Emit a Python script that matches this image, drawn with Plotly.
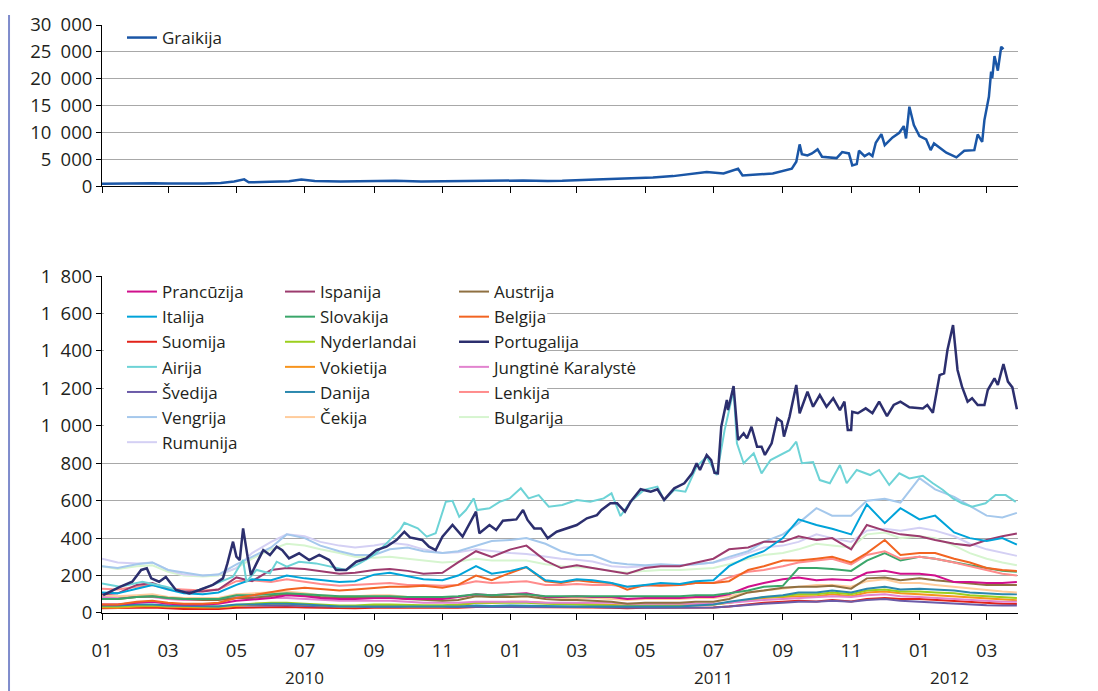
import plotly.graph_objects as go

# ---- data (bp) ----
dates_semi = ["2010-01-01", "2010-01-15", "2010-02-01", "2010-02-15", "2010-03-01", "2010-03-15",
              "2010-04-01", "2010-04-15", "2010-05-01", "2010-05-15", "2010-06-01", "2010-06-15",
              "2010-07-01", "2010-07-15", "2010-08-01", "2010-08-15", "2010-09-01", "2010-09-15",
              "2010-10-01", "2010-10-15", "2010-11-01", "2010-11-15", "2010-12-01", "2010-12-15",
              "2011-01-01", "2011-01-15", "2011-02-01", "2011-02-15", "2011-03-01", "2011-03-15",
              "2011-04-01", "2011-04-15", "2011-05-01", "2011-05-15", "2011-06-01", "2011-06-15",
              "2011-07-01", "2011-07-15", "2011-08-01", "2011-08-15", "2011-09-01", "2011-09-15",
              "2011-10-01", "2011-10-15", "2011-11-01", "2011-11-15", "2011-12-01", "2011-12-15",
              "2012-01-01", "2012-01-15", "2012-02-01", "2012-02-15", "2012-03-01", "2012-03-15",
              "2012-03-28"]

prancuzija = [45, 45, 55, 60, 50, 45, 45, 50, 65, 70, 80, 95, 90, 80, 75, 75, 80, 80, 75, 75, 75, 85, 100, 95,
              100, 105, 85, 85, 90, 85, 85, 75, 80, 80, 80, 85, 85, 100, 140, 160, 180, 190, 175, 180, 175, 215, 225, 210,
              210, 200, 165, 165, 160, 160, 165]
italija = [110, 105, 130, 150, 125, 105, 100, 110, 150, 180, 175, 200, 185, 175, 165, 170, 205, 215, 195, 180, 175, 200, 250, 210,
           225, 245, 175, 165, 180, 175, 160, 140, 150, 160, 155, 170, 175, 250, 300, 330, 400, 500, 470, 450, 420, 580, 480, 560,
           500, 520, 430, 400, 385, 400, 365]
suomija = [25, 25, 28, 30, 25, 22, 22, 22, 28, 30, 32, 32, 30, 28, 25, 25, 28, 28, 26, 26, 26, 28, 32, 32,
           33, 34, 32, 30, 30, 30, 28, 25, 28, 28, 28, 30, 30, 35, 45, 55, 60, 65, 62, 70, 62, 75, 80, 75,
           75, 70, 65, 60, 55, 50, 48]
svedija = [35, 35, 40, 40, 35, 33, 33, 33, 40, 40, 42, 42, 38, 35, 33, 33, 33, 33, 32, 32, 32, 33, 35, 35,
           35, 35, 33, 32, 32, 32, 30, 28, 28, 28, 28, 30, 30, 35, 45, 50, 55, 60, 60, 65, 60, 70, 75, 65,
           60, 55, 50, 45, 42, 40, 40]
vengrija = [250, 240, 260, 270, 230, 215, 200, 205, 260, 300, 350, 420, 400, 360, 330, 310, 310, 340, 350, 330, 320, 330, 360, 385,
            390, 400, 370, 330, 310, 310, 270, 260, 255, 260, 255, 260, 270, 300, 330, 380, 420, 480, 560, 520, 520, 600, 610, 590,
            720, 660, 620, 570, 520, 510, 535]
rumunija = [290, 270, 265, 270, 230, 205, 200, 205, 240, 320, 380, 420, 410, 380, 360, 350, 360, 375, 365, 340, 320, 325, 340, 330,
            320, 315, 300, 290, 285, 275, 250, 245, 250, 255, 255, 260, 270, 290, 320, 350, 360, 380, 420, 400, 380, 440, 450, 440,
            455, 440, 410, 370, 340, 320, 305]
ispanija = [100, 105, 150, 160, 130, 115, 115, 125, 190, 170, 230, 240, 235, 225, 210, 215, 230, 235, 225, 210, 215, 270, 330, 300,
            340, 360, 280, 240, 255, 240, 225, 210, 240, 250, 250, 270, 290, 340, 350, 380, 380, 410, 390, 400, 340, 470, 440, 420,
            410, 390, 370, 360, 390, 410, 425]
slovakija = [75, 75, 85, 90, 80, 75, 75, 75, 95, 95, 100, 105, 100, 95, 90, 90, 90, 90, 85, 85, 85, 90, 100, 95,
             100, 100, 90, 90, 90, 90, 90, 90, 90, 90, 90, 95, 95, 105, 120, 140, 145, 240, 240, 235, 225, 280, 320, 280,
             300, 290, 270, 255, 240, 225, 220]
nyderlandai = [35, 35, 40, 42, 38, 35, 35, 35, 45, 50, 55, 55, 50, 45, 40, 40, 45, 45, 42, 42, 42, 45, 55, 55,
               55, 55, 50, 48, 48, 45, 42, 38, 40, 40, 40, 42, 45, 55, 70, 85, 90, 100, 100, 110, 100, 120, 125, 115,
               115, 110, 105, 95, 90, 85, 80]
vokietija = [30, 28, 35, 38, 33, 30, 30, 30, 40, 45, 50, 50, 45, 40, 35, 35, 40, 40, 35, 35, 35, 40, 55, 55,
             60, 60, 55, 50, 50, 48, 45, 40, 42, 42, 42, 45, 45, 55, 70, 80, 85, 90, 90, 100, 90, 110, 115, 105,
             100, 95, 85, 80, 75, 70, 68]
danija = [40, 40, 45, 45, 40, 38, 35, 35, 45, 45, 50, 50, 45, 40, 35, 35, 35, 35, 35, 35, 35, 35, 40, 38,
          40, 40, 38, 36, 35, 35, 34, 33, 35, 35, 35, 40, 45, 60, 75, 85, 95, 110, 110, 120, 110, 130, 140, 125,
          130, 125, 120, 110, 105, 100, 100]
cekija = [95, 90, 95, 100, 85, 80, 80, 80, 100, 105, 110, 115, 105, 95, 90, 90, 95, 95, 85, 80, 80, 85, 95, 90,
          90, 90, 85, 80, 80, 80, 75, 70, 75, 75, 75, 80, 80, 90, 110, 120, 130, 140, 150, 150, 140, 170, 180, 160,
          160, 150, 140, 130, 120, 115, 110]
austrija = [75, 75, 85, 90, 80, 75, 70, 70, 80, 80, 90, 100, 95, 85, 80, 80, 85, 85, 75, 70, 65, 70, 90, 85,
            85, 90, 75, 70, 70, 65, 60, 50, 55, 55, 55, 60, 60, 75, 110, 120, 135, 140, 140, 145, 130, 185, 190, 175,
            185, 175, 165, 160, 150, 150, 150]
belgija = [45, 45, 60, 65, 55, 50, 50, 55, 80, 95, 110, 125, 135, 130, 120, 125, 135, 140, 140, 145, 135, 150, 200, 175,
           215, 245, 170, 160, 175, 165, 160, 125, 150, 145, 150, 160, 160, 170, 230, 250, 280, 280, 290, 300, 270, 320, 390, 310,
           320, 320, 290, 270, 240, 230, 225]
jungtine = [85, 85, 85, 85, 75, 70, 70, 75, 90, 85, 80, 80, 75, 70, 65, 65, 65, 65, 60, 55, 55, 55, 60, 60,
            60, 60, 55, 55, 55, 55, 55, 50, 50, 50, 50, 50, 50, 55, 65, 70, 75, 80, 85, 90, 85, 95, 100, 90,
            85, 80, 75, 70, 65, 60, 60]
lenkija = [130, 125, 140, 150, 130, 125, 120, 125, 170, 175, 165, 180, 165, 155, 145, 150, 155, 160, 150, 150, 145, 150, 170, 160,
           165, 170, 150, 150, 155, 150, 150, 140, 145, 150, 150, 160, 160, 190, 220, 230, 250, 270, 280, 290, 260, 310, 330, 290,
           300, 290, 270, 250, 230, 210, 200]
bulgarija = [250, 235, 250, 255, 220, 200, 195, 200, 240, 290, 340, 370, 360, 340, 320, 300, 295, 300, 290, 280, 270, 275, 290, 280,
             280, 280, 260, 250, 245, 240, 225, 215, 225, 230, 230, 235, 240, 260, 290, 310, 320, 340, 370, 360, 350, 420, 430, 400,
             410, 400, 360, 320, 290, 270, 255]

ie_dates = ["2010-01-01", "2010-01-17", "2010-02-06", "2010-02-27", "2010-03-20", "2010-04-10", "2010-04-28",
            "2010-05-07", "2010-05-10", "2010-05-19", "2010-05-31", "2010-06-06", "2010-06-15", "2010-06-26",
            "2010-07-11", "2010-07-26", "2010-08-07", "2010-08-19", "2010-09-01", "2010-09-12", "2010-09-24",
            "2010-09-28", "2010-10-10", "2010-10-18", "2010-10-26", "2010-11-04", "2010-11-10", "2010-11-16",
            "2010-11-22", "2010-11-29", "2010-12-02", "2010-12-13", "2010-12-22", "2010-12-31", "2011-01-10",
            "2011-01-17", "2011-01-26", "2011-02-04", "2011-02-16", "2011-03-01", "2011-03-13", "2011-03-25",
            "2011-04-01", "2011-04-09", "2011-04-18", "2011-04-30", "2011-05-12", "2011-05-18", "2011-05-27",
            "2011-06-06", "2011-06-16", "2011-06-25", "2011-07-04", "2011-07-11", "2011-07-19", "2011-07-22",
            "2011-07-28", "2011-08-06", "2011-08-13", "2011-08-21", "2011-08-30", "2011-09-07", "2011-09-13",
            "2011-09-18", "2011-09-28", "2011-10-04", "2011-10-13", "2011-10-22", "2011-10-28", "2011-11-06",
            "2011-11-18", "2011-11-26", "2011-12-05", "2011-12-14", "2011-12-23", "2012-01-04", "2012-01-13",
            "2012-01-22", "2012-01-31", "2012-02-08", "2012-02-17", "2012-02-29", "2012-03-09", "2012-03-18",
            "2012-03-27"]
airija = [158, 140, 167, 140, 105, 150, 194,
          283, 167, 230, 212, 274, 247, 274,
          265, 247, 230, 265, 310, 372, 443,
          482, 452, 408, 426, 594, 599, 514,
          550, 612, 550, 559, 594, 612, 666,
          612, 630, 568, 577, 603, 594, 612,
          639, 518, 594, 657, 675, 603, 657,
          648, 782, 835, 737, 977, 1190, 906,
          800, 853, 746, 817, 844, 870, 915,
          800, 806, 710, 693, 790, 693, 764,
          737, 764, 684, 746, 719, 733, 693,
          657, 612, 586, 568, 586, 630, 630,
          594]

pt_dates = ["2010-01-02", "2010-01-17", "2010-01-28", "2010-02-05", "2010-02-10", "2010-02-14", "2010-02-21",
            "2010-02-27", "2010-03-08", "2010-03-20", "2010-03-29", "2010-04-10", "2010-04-19", "2010-04-23",
            "2010-04-28", "2010-05-01", "2010-05-04", "2010-05-07", "2010-05-11", "2010-05-14", "2010-05-19",
            "2010-05-25", "2010-05-31", "2010-06-06", "2010-06-11", "2010-06-17", "2010-06-26", "2010-07-05",
            "2010-07-14", "2010-07-23", "2010-07-29", "2010-08-07", "2010-08-16", "2010-08-25", "2010-09-03",
            "2010-09-12", "2010-09-21", "2010-09-28", "2010-10-03", "2010-10-10", "2010-10-14", "2010-10-20",
            "2010-10-26", "2010-11-01", "2010-11-10", "2010-11-19", "2010-11-27", "2010-12-01", "2010-12-04",
            "2010-12-13", "2010-12-19", "2010-12-25", "2011-01-06", "2011-01-12", "2011-01-16", "2011-01-22",
            "2011-01-28", "2011-02-03", "2011-02-11", "2011-02-20", "2011-03-01", "2011-03-10", "2011-03-19",
            "2011-03-23", "2011-03-31", "2011-04-06", "2011-04-13", "2011-04-18", "2011-04-27", "2011-05-06",
            "2011-05-12", "2011-05-18", "2011-05-27", "2011-06-05", "2011-06-12", "2011-06-16", "2011-06-19",
            "2011-06-25", "2011-06-29", "2011-07-02", "2011-07-05", "2011-07-08", "2011-07-13", "2011-07-14",
            "2011-07-19", "2011-07-23", "2011-07-28", "2011-07-31", "2011-08-04", "2011-08-09", "2011-08-13",
            "2011-08-16", "2011-08-22", "2011-08-27", "2011-08-31", "2011-09-02", "2011-09-07", "2011-09-13",
            "2011-09-16", "2011-09-23", "2011-09-28", "2011-10-04", "2011-10-10", "2011-10-16", "2011-10-22",
            "2011-10-26", "2011-10-29", "2011-11-01", "2011-11-02", "2011-11-07", "2011-11-14", "2011-11-20",
            "2011-11-26", "2011-12-03", "2011-12-09", "2011-12-15", "2011-12-23", "2012-01-04", "2012-01-08",
            "2012-01-13", "2012-01-19", "2012-01-23", "2012-01-26", "2012-01-31", "2012-02-04", "2012-02-08",
            "2012-02-13", "2012-02-17", "2012-02-22", "2012-02-28", "2012-03-02", "2012-03-08", "2012-03-11",
            "2012-03-16", "2012-03-20", "2012-03-24", "2012-03-28"]
portugalija = [96, 140, 167, 230, 239, 185, 167,
               192, 123, 105, 123, 150, 185, 265,
               381, 301, 283, 452, 301, 203, 265,
               336, 310, 354, 336, 292, 319, 283,
               310, 283, 230, 230, 274, 292, 336,
               354, 390, 434, 404, 394, 390, 354,
               336, 408, 470, 408, 497, 541, 426,
               470, 443, 493, 500, 550, 497, 452,
               452, 399, 434, 452, 470, 506, 523,
               550, 586, 586, 541, 594, 661, 648,
               661, 604, 666, 693, 746, 800, 764,
               844, 817, 749, 746, 995, 1138, 1084,
               1212, 924, 960, 933, 995, 888, 888,
               844, 906, 1040, 1022, 942, 1049, 1218,
               1067, 1182, 1102, 1164, 1102, 1147, 1084,
               1129, 977, 977, 1075, 1067, 1093, 1067,
               1129, 1052, 1111, 1129, 1099, 1093, 1111,
               1070, 1271, 1280, 1405, 1538, 1298, 1209,
               1129, 1147, 1111, 1111, 1191, 1253, 1218,
               1330, 1236, 1205, 1088]

gr_dates = ["2010-01-01", "2010-01-17", "2010-02-01", "2010-02-16", "2010-03-01", "2010-03-20", "2010-04-02",
            "2010-04-17", "2010-04-29", "2010-05-08", "2010-05-12", "2010-05-31", "2010-06-17", "2010-06-28",
            "2010-07-10", "2010-08-02", "2010-09-02", "2010-09-20", "2010-10-13", "2010-11-05", "2010-11-18",
            "2010-12-07", "2010-12-25", "2011-01-12", "2011-02-03", "2011-02-16", "2011-03-18", "2011-04-17",
            "2011-05-08", "2011-05-26", "2011-06-25", "2011-07-10", "2011-07-23", "2011-07-27", "2011-08-23",
            "2011-09-09", "2011-09-13", "2011-09-16", "2011-09-18", "2011-09-23", "2011-09-27", "2011-10-02",
            "2011-10-06", "2011-10-19", "2011-10-24", "2011-10-30", "2011-11-02", "2011-11-06", "2011-11-08",
            "2011-11-13", "2011-11-17", "2011-11-20", "2011-11-23", "2011-11-28", "2011-12-01", "2011-12-08",
            "2011-12-14", "2011-12-18", "2011-12-20", "2011-12-23", "2011-12-27", "2012-01-01", "2012-01-07",
            "2012-01-11", "2012-01-14", "2012-01-25", "2012-02-03", "2012-02-10", "2012-02-19", "2012-02-22",
            "2012-02-26", "2012-02-28", "2012-03-03", "2012-03-05", "2012-03-06", "2012-03-08", "2012-03-11",
            "2012-03-14", "2012-03-16"]
graikija = [450, 480, 600, 550, 500, 480, 500,
            600, 850, 1250, 700, 800, 900, 1250,
            950, 850, 900, 1000, 850, 900, 1000,
            1050, 1000, 1050, 950, 990, 1250, 1430,
            1600, 1860, 2610, 2360, 3230, 1990, 2360,
            3230, 4530, 7770, 5960, 5720, 6090, 6840,
            5470, 5220, 6340, 6090, 3850, 4100, 6580,
            5590, 6090, 5590, 8070, 9690, 7640, 9070,
            9930, 11180, 8880, 14780, 11360, 9310, 8690,
            6700, 7950, 6210, 5350, 6580, 6700, 9620,
            8250, 12300, 16640, 21300, 20100, 24200, 21500,
            25950, 25500]

# tick labels (wide space as thousands separator)
sp = "\u2002"
x_tickvals = ["2010-01-01", "2010-03-01", "2010-05-01", "2010-07-01", "2010-09-01", "2010-11-01",
              "2011-01-01", "2011-03-01", "2011-05-01", "2011-07-01", "2011-09-01", "2011-11-01",
              "2012-01-01", "2012-03-01"]
x_ticktext = ["01", "03", "05", "07", "09", "11", "01", "03", "05", "07", "09", "11", "01", "03"]
top_tickvals = [0, 5000, 10000, 15000, 20000, 25000, 30000]
top_ticktext = ["0", "5" + sp + "000", "10" + sp + "000", "15" + sp + "000", "20" + sp + "000",
                "25" + sp + "000", "30" + sp + "000"]
bot_tickvals = [0, 200, 400, 600, 800, 1000, 1200, 1400, 1600, 1800]
bot_ticktext = ["0", "200", "400", "600", "800", "1" + sp + "000", "1" + sp + "200", "1" + sp + "400",
                "1" + sp + "600", "1" + sp + "800"]
year_labels = ["2010", "2011", "2012"]
year_pos = ["2010-07-01", "2011-07-01", "2012-01-28"]

# (name, values, colour, legend, rank) -- drawn in this order
series = [
    ("Suomija", suomija, "#e2231a", "legend", 3),
    ("Švedija", svedija, "#6b5ba8", "legend", 5),
    ("Vokietija", vokietija, "#f7941d", "legend2", 4),
    ("Nyderlandai", nyderlandai, "#9ccf1e", "legend2", 3),
    ("Jungtinė Karalystė", jungtine, "#e283cf", "legend3", 4),
    ("Danija", danija, "#2b88ae", "legend2", 5),
    ("Čekija", cekija, "#ffcc9c", "legend2", 6),
    ("Austrija", austrija, "#8f7041", "legend3", 1),
    ("Prancūzija", prancuzija, "#d0108c", "legend", 1),
    ("Slovakija", slovakija, "#3aa66a", "legend2", 2),
    ("Lenkija", lenkija, "#ff8c8c", "legend3", 5),
    ("Belgija", belgija, "#f26421", "legend3", 2),
    ("Bulgarija", bulgarija, "#d6f5cf", "legend3", 6),
    ("Rumunija", rumunija, "#d4d0f4", "legend", 7),
    ("Vengrija", vengrija, "#a5c8ec", "legend", 6),
    ("Ispanija", ispanija, "#9c3b6e", "legend2", 1),
    ("Italija", italija, "#00a3d9", "legend", 2),
]

fig = go.Figure()

fig.add_trace(go.Scatter(x=gr_dates, y=graikija, name="Graikija", mode="lines",
                         line=dict(color="#1a56a6", width=2.5), xaxis="x", yaxis="y", legend="legend4"))

for name, vals, col, leg, rank in series:
    fig.add_trace(go.Scatter(x=dates_semi, y=vals, name=name, mode="lines",
                             line=dict(color=col, width=2), xaxis="x2", yaxis="y2",
                             legend=leg, legendrank=rank))

fig.add_trace(go.Scatter(x=ie_dates, y=airija, name="Airija", mode="lines",
                         line=dict(color="#6dd3d6", width=2), xaxis="x2", yaxis="y2",
                         legend="legend", legendrank=4))
fig.add_trace(go.Scatter(x=pt_dates, y=portugalija, name="Portugalija", mode="lines",
                         line=dict(color="#2c2f6e", width=2.5), xaxis="x2", yaxis="y2",
                         legend="legend3", legendrank=3))

txt = "#231f20"
grid = "#a8a8a8"
xrange = ["2010-01-01", "2012-03-29"]
fnt = dict(family="Open Sans", size=17, color=txt)
tickfnt = dict(family="Open Sans", size=18.5, color=txt)

xcommon = dict(type="date", range=xrange, showline=True, linecolor="black", linewidth=1,
               ticks="outside", ticklen=6, tickcolor="black", tickvals=x_tickvals,
               showgrid=False, zeroline=False)
ycommon = dict(showline=True, linecolor="black", linewidth=1, ticks="outside", ticklen=5,
               tickcolor="black", zeroline=False, tickfont=tickfnt)

leg_common = dict(xanchor="left", yanchor="top", bgcolor="rgba(0,0,0,0)", font=fnt,
                  tracegroupgap=0, itemclick=False)

# page has an 8px body margin, so the figure is 8px smaller and margins shifted
fig.update_layout(
    width=1090, height=683,
    margin=dict(l=94, r=80, t=17, b=78, autoexpand=False),
    paper_bgcolor="white", plot_bgcolor="white",
    font=fnt,
    showlegend=True,
    xaxis=dict(xcommon, domain=[0, 1], anchor="y", showticklabels=False),
    xaxis2=dict(xcommon, domain=[0, 1], anchor="y2", ticktext=x_ticktext,
                tickfont=tickfnt, ticklabelstandoff=15),
    yaxis=dict(ycommon, domain=[0.726, 1], range=[0, 30000], tickvals=top_tickvals,
               ticktext=top_ticktext, showgrid=True, gridcolor=grid, anchor="x"),
    yaxis3=dict(ycommon, overlaying="y", side="right", range=[0, 30000], tickvals=top_tickvals,
                ticktext=top_ticktext, showgrid=False, anchor="x"),
    yaxis2=dict(ycommon, domain=[0, 0.5731], range=[0, 1800], tickvals=bot_tickvals,
                ticktext=bot_ticktext, showgrid=True, gridcolor=grid, anchor="x2"),
    yaxis4=dict(ycommon, overlaying="y2", side="right", range=[0, 1800], tickvals=bot_tickvals,
                ticktext=bot_ticktext, showgrid=False, anchor="x2"),
    legend=dict(leg_common, x=0.0218, y=0.5765),
    legend2=dict(leg_common, x=0.1943, y=0.5765),
    legend3=dict(leg_common, x=0.3843, y=0.5765),
    legend4=dict(leg_common, x=0.0218, y=1.0085),
    annotations=[dict(text=t, x=p, xref="x2", y=-0.1105, yref="paper", yanchor="middle",
                      showarrow=False, font=fnt) for t, p in zip(year_labels, year_pos)],
    shapes=[
        # white box behind the legend, hiding the grid there
        dict(type="rect", xref="paper", yref="paper", x0=0.002, x1=0.486, y0=0.269, y1=0.58,
             fillcolor="white", line=dict(width=0), layer="above"),
        # thin blue rule at the left edge of the page
        dict(type="line", xref="paper", yref="paper", x0=-0.1015, x1=-0.1015, y0=1.017, y1=-0.14,
             line=dict(color="#7f8ccc", width=2)),
    ],
)

fig.write_html("out.html")
